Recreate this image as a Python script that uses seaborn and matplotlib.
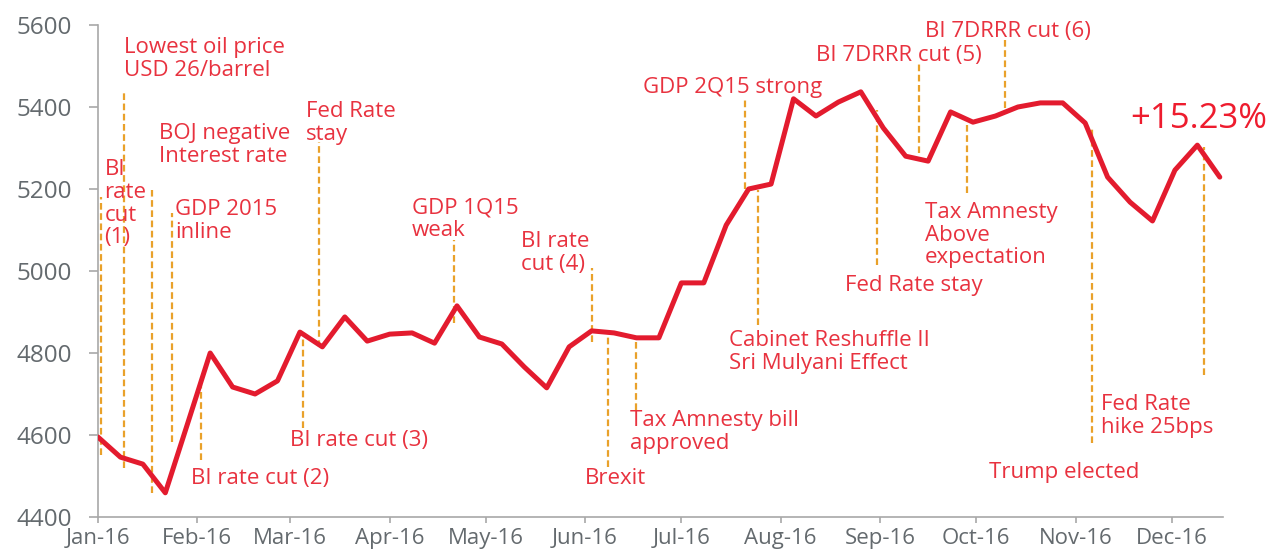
import pandas as pd
import matplotlib.pyplot as plt
import matplotlib.dates as mdates
import seaborn as sns

# JCI weekly close 2016
weeks = pd.date_range('2016-01-01', periods=51, freq='7D')
jci = [4595, 4546, 4529, 4459, 4629, 4800, 4717, 4700, 4732, 4851,
       4815, 4888, 4829, 4846, 4849, 4824, 4915, 4839, 4822, 4766,
       4715, 4815, 4854, 4849, 4837, 4837, 4971, 4971, 5112, 5200,
       5212, 5420, 5378, 5412, 5437, 5349, 5280, 5268, 5388, 5363,
       5378, 5400, 5410, 5410, 5361, 5229, 5168, 5122, 5246, 5307, 5229]

# event markers: date, top and bottom of dashed line
event_dates = pd.to_datetime(['2016-01-02', '2016-01-09', '2016-01-18', '2016-01-24',
                              '2016-02-02', '2016-03-05', '2016-03-10', '2016-04-21',
                              '2016-06-03', '2016-06-08', '2016-06-17', '2016-07-21',
                              '2016-07-25', '2016-08-31', '2016-09-13', '2016-09-28',
                              '2016-10-10', '2016-11-06', '2016-12-11'])
event_top = [5180, 5439, 5198, 5141, 4739, 4849, 5315, 5076, 5007, 4849,
             4832, 5420, 5198, 5393, 5507, 5361, 5563, 5351, 5302]
event_bottom = [4551, 4520, 4459, 4583, 4539, 4617, 4815, 4873, 4827, 4522,
                4661, 5200, 4868, 5015, 5288, 5190, 5398, 4580, 4746]

# annotation texts with their anchor (top-left)
label_texts = ['BI\nrate\ncut\n(1)', 'Lowest oil price\nUSD 26/barrel', 'BOJ negative\nInterest rate',
               'GDP 2015\ninline', 'BI rate cut (2)', 'BI rate cut (3)', 'Fed Rate\nstay',
               'GDP 1Q15\nweak', 'BI rate\ncut (4)', 'Brexit', 'Tax Amnesty bill\napproved',
               'GDP 2Q15 strong', 'Cabinet Reshuffle II\nSri Mulyani Effect', 'Fed Rate stay',
               'BI 7DRRR cut (5)', 'BI 7DRRR cut (6)', 'Tax Amnesty\nAbove\nexpectation',
               'Fed Rate\nhike 25bps', 'Trump elected']
label_dates = pd.to_datetime(['2016-01-03', '2016-01-09', '2016-01-20', '2016-01-25',
                              '2016-01-30', '2016-03-01', '2016-03-06', '2016-04-08',
                              '2016-05-12', '2016-06-01', '2016-06-15', '2016-06-19',
                              '2016-07-16', '2016-08-21', '2016-08-12', '2016-09-15',
                              '2016-09-15', '2016-11-09', '2016-10-05'])
label_y = [5272, 5570, 5360, 5175, 4519, 4612, 5414, 5180, 5097, 4519,
           4661, 5473, 4856, 4991, 5551, 5609, 5168, 4699, 4534]

months = pd.date_range('2016-01-01', '2016-12-01', freq='MS')

sns.set_theme(style='white')
plt.rcParams['font.family'] = ['Open Sans', 'DejaVu Sans']

fig = plt.figure(figsize=(12.82, 5.53), dpi=100)
ax = fig.add_axes([98 / 1282, 36 / 553, 1125 / 1282, 492 / 553])

df = pd.DataFrame({'week': weeks, 'jci': jci})
sns.lineplot(data=df, x='week', y='jci', color='#E31B2E', linewidth=3.6, ax=ax, zorder=3)

orange = '#E9A12A'
for d, t, b in zip(event_dates, event_top, event_bottom):
    ax.plot([d, d], [b, t], color=orange, linewidth=1.6, linestyle=(0, (3, 1.6)), zorder=2)

red_txt = '#E8323F'
for txt, d, y in zip(label_texts, label_dates, label_y):
    ax.text(d, y, txt, color=red_txt, fontsize=16, ha='left', va='top',
            linespacing=1.1, clip_on=False, zorder=4)

ax.text(pd.Timestamp('2016-11-18'), 5370, '+15.23%', color='#EE1C2E', fontsize=25,
        ha='left', va='center', zorder=4)

ax.set_xlim(pd.Timestamp('2016-01-01'), pd.Timestamp('2016-12-17'))
ax.set_ylim(4400, 5600)
ax.set_yticks(range(4400, 5601, 200))
ax.set_xticks(months)
ax.xaxis.set_major_formatter(mdates.DateFormatter('%b-%y'))
ax.set_xlabel('')
ax.set_ylabel('')

sns.despine(ax=ax)
for s in ['left', 'bottom']:
    ax.spines[s].set_color('#A8A8A8')
    ax.spines[s].set_linewidth(1.2)
ax.tick_params(axis='y', length=6.5, width=1.2, color='#A8A8A8', pad=12,
               labelsize=17.5, labelcolor='#646A6E', left=True)
ax.tick_params(axis='x', length=4, width=1.2, color='#A8A8A8', pad=4,
               labelsize=16, labelcolor='#646A6E', bottom=True)

fig.savefig('out.png', dpi=100)
